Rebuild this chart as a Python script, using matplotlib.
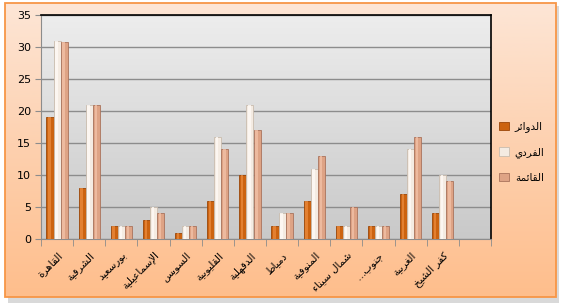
import numpy as np
import matplotlib
matplotlib.use("Agg")
import matplotlib.pyplot as plt
from matplotlib.patches import Rectangle

# Data
governorates = ["القاهرة", "الشرقية", "بورسعيد", "الإسماعيلية", "السويس", "القليوبية",
                "الدقهلية", "دمياط", "المنوفية", "شمال سيناء", "جنوب…", "الغربية", "كفر الشيخ"]
circles = [19, 8, 2, 3, 1, 6, 10, 2, 6, 2, 2, 7, 4]           # الدوائر
individual = [31, 21, 2, 5, 2, 16, 21, 4, 11, 2, 2, 14, 10]   # الفردي
party_list = [30.8, 21, 2, 4, 2, 14, 17, 4, 13, 5, 2, 16, 9]  # القائمة
series_names = ["الدوائر", "الفردي", "القائمة"]
y_ticks = [0, 5, 10, 15, 20, 25, 30, 35]

# Minimal Arabic shaping (matplotlib has no complex text layout)
_table = [("ء", 0xFE80, 1), ("آ", 0xFE81, 2), ("أ", 0xFE83, 2), ("ؤ", 0xFE85, 2),
          ("إ", 0xFE87, 2), ("ئ", 0xFE89, 4), ("ا", 0xFE8D, 2), ("ب", 0xFE8F, 4),
          ("ة", 0xFE93, 2), ("ت", 0xFE95, 4), ("ث", 0xFE99, 4), ("ج", 0xFE9D, 4),
          ("ح", 0xFEA1, 4), ("خ", 0xFEA5, 4), ("د", 0xFEA9, 2), ("ذ", 0xFEAB, 2),
          ("ر", 0xFEAD, 2), ("ز", 0xFEAF, 2), ("س", 0xFEB1, 4), ("ش", 0xFEB5, 4),
          ("ص", 0xFEB9, 4), ("ض", 0xFEBD, 4), ("ط", 0xFEC1, 4), ("ظ", 0xFEC5, 4),
          ("ع", 0xFEC9, 4), ("غ", 0xFECD, 4), ("ف", 0xFED1, 4), ("ق", 0xFED5, 4),
          ("ك", 0xFED9, 4), ("ل", 0xFEDD, 4), ("م", 0xFEE1, 4), ("ن", 0xFEE5, 4),
          ("ه", 0xFEE9, 4), ("و", 0xFEED, 2), ("ى", 0xFEEF, 2), ("ي", 0xFEF1, 4)]
FORMS = {c: (start, n) for c, start, n in _table}
LAM_ALEF = {"آ": 0xFEF5, "أ": 0xFEF7, "إ": 0xFEF9, "ا": 0xFEFB}


def shape(text):
    units = []
    i = 0
    while i < len(text):
        c = text[i]
        if c == "ل" and i + 1 < len(text) and text[i + 1] in LAM_ALEF:
            units.append((LAM_ALEF[text[i + 1]], 2))
            i += 2
            continue
        if c in FORMS:
            units.append(FORMS[c])
        else:
            units.append((c, 0))
        i += 1
    out = []
    for k, (base, n) in enumerate(units):
        if n == 0:
            out.append(base)
            continue
        prev = k > 0 and units[k - 1][1] == 4
        nxt = n == 4 and k + 1 < len(units) and units[k + 1][1] >= 2
        if n == 1:
            off = 0
        elif n == 2:
            off = 1 if prev else 0
        else:
            off = 3 if (prev and nxt) else 1 if prev else 2 if nxt else 0
        out.append(chr(base + off))
    return "".join(out[::-1])


plt.rcParams["font.family"] = ["DejaVu Sans"]

fig = plt.figure(figsize=(5.62, 3.05), dpi=100)

# Chart area: peach gradient with orange border and a soft shadow
bg = fig.add_axes([0, 0, 1, 1], zorder=-10)
bg.set_xlim(0, 562)
bg.set_ylim(305, 0)
bg.axis("off")
bg.add_patch(Rectangle((8, 6), 551, 297, facecolor="#d9d9d9", edgecolor="none"))
grad = np.linspace(0, 1, 256).reshape(-1, 1)
from matplotlib.colors import LinearSegmentedColormap
peach = LinearSegmentedColormap.from_list("peach", ["#fde6d6", "#fdd0ae", "#ffbe8c"])
bg.imshow(grad, extent=(5, 556, 297, 3), cmap=peach, aspect="auto", zorder=1)
bg.add_patch(Rectangle((5, 3), 551, 294, facecolor="none", edgecolor="#f79646", lw=1.3, zorder=2))

ax = fig.add_axes([41 / 562, 1 - 239 / 305, 450 / 562, 224 / 305])
x = np.arange(len(governorates))
w = 1 / 4.5

gray = LinearSegmentedColormap.from_list("gray", ["#ededed", "#c9c9c9"])
ax.imshow(grad, extent=(-0.5, 13.5, 0, 35), cmap=gray, aspect="auto", zorder=0)

colors = ["#cc6310", "#f4ebe2", "#dea385"]
edges = ["#9a4608", "#c9bcae", "#a9735c"]
highlights = ["#e9883a", "#fffaf5", "#f2c0a6"]
for j, vals in enumerate([circles, individual, party_list]):
    pos = x + (j - 1) * w
    ax.bar(pos, vals, width=w, color=colors[j], edgecolor=edges[j], linewidth=0.6,
           zorder=3, label=shape(series_names[j]))
    ax.bar(pos - w * 0.08, vals, width=w * 0.35, color=highlights[j], linewidth=0,
           zorder=4, alpha=0.8)

ax.set_xlim(-0.5, 13.5)
ax.set_ylim(0, 35)
ax.set_yticks(y_ticks)
ax.yaxis.grid(True, color="#8c8c8c", linewidth=1)
ax.set_axisbelow(True)
ax.tick_params(axis="y", labelsize=8, length=4, color="#8c8c8c", pad=3)

ax.set_xticks(x)
ax.set_xticklabels([shape(g) for g in governorates], rotation=45, ha="right",
                   va="top", rotation_mode="anchor", fontsize=7.5)
ax.tick_params(axis="x", length=0, pad=8)
ax.set_xticks(np.arange(-0.5, 14, 1), minor=True)
ax.tick_params(axis="x", which="minor", length=5, color="#8c8c8c")

for s in ["left", "bottom"]:
    ax.spines[s].set_color("#8c8c8c")
for s in ["top", "right"]:
    ax.spines[s].set_color("black")
    ax.spines[s].set_linewidth(1.2)

ax.legend(loc="center left", bbox_to_anchor=(495 / 562, 1 - 152 / 305),
          bbox_transform=fig.transFigure, frameon=False, fontsize=7.5,
          labelspacing=1.4, handlelength=0.9, handleheight=0.9, handletextpad=0.6,
          borderaxespad=0)

fig.savefig("out.png", dpi=100)
